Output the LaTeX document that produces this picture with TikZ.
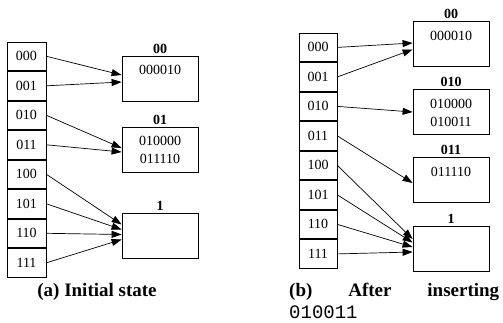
\documentclass[tikz,border=0pt]{standalone}
\usepackage{fontspec}
\setmainfont{Liberation Serif}
\setmonofont{Liberation Mono}
\usetikzlibrary{arrows.meta, positioning}

\begin{document}
\begin{tikzpicture}[
    x=1pt, y=-1pt,
    node distance=0pt,
    cell/.style={rectangle, draw, line width=0.8pt, minimum width=39pt, minimum height=28.7pt, inner sep=0pt, font=\fontsize{14}{16}\selectfont},
    bucket/.style={rectangle, draw, line width=0.8pt, minimum width=76pt, minimum height=45pt, inner sep=0pt},
    bucketlabel/.style={font=\fontsize{14}{16}\selectfont\bfseries, inner sep=2pt},
    entries/.style={anchor=north, align=center, inner sep=0pt, font=\fontsize{14}{18}\selectfont},
    line/.style={draw, line width=0.7pt, -{Triangle[length=10pt,width=7pt]}},
    caption/.style={font=\fontsize{19}{22}\selectfont\bfseries}
]
\useasboundingbox (0,0) rectangle (503,322);

% Directory for the initial state
\node[cell] (a000) at (26.5,56.3) {000};
\node[cell, below=of a000] (a001) {001};
\node[cell, below=of a001] (a010) {010};
\node[cell, below=of a010] (a011) {011};
\node[cell, below=of a011] (a100) {100};
\node[cell, below=of a100] (a101) {101};
\node[cell, below=of a101] (a110) {110};
\node[cell, below=of a110] (a111) {111};

% Buckets for the initial state
\node[bucket, label={[bucketlabel]above:00}] (a00) at (160,78.5) {};
\node[entries] (a00_keys) at ([yshift=-9.5pt]a00.north) {000010};
\node[bucket, label={[bucketlabel]above:01}] (a01) at (160,149.5) {};
\node[entries] (a01_keys) at ([yshift=-9.5pt]a01.north) {010000\\011110};
\node[bucket, label={[bucketlabel]above:1}] (a1) at (160,235.5) {};

% Pointers for the initial state
\path [line] (a000.east) -- ([yshift=3.5pt]a00.west);
\path [line] (a001.east) -- ([yshift=-3.5pt]a00.west);
\path [line] (a010.east) -- ([yshift=1.5pt]a01.west);
\path [line] (a011.east) -- ([yshift=-2.5pt]a01.west);
\path [line] (a100.east) -- ([yshift=11pt]a1.west);
\path [line] (a101.east) -- ([yshift=6pt]a1.west);
\path [line] (a110.east) -- ([yshift=1pt]a1.west);
\path [line] (a111.east) -- ([yshift=-4pt]a1.west);

% Directory after the insertion
\node[cell, minimum width=38pt] (b000) at (318,47.4) {000};
\node[cell, minimum width=38pt, below=of b000] (b001) {001};
\node[cell, minimum width=38pt, below=of b001] (b010) {010};
\node[cell, minimum width=38pt, below=of b010] (b011) {011};
\node[cell, minimum width=38pt, below=of b011] (b100) {100};
\node[cell, minimum width=38pt, below=of b100] (b101) {101};
\node[cell, minimum width=38pt, below=of b101] (b110) {110};
\node[cell, minimum width=38pt, below=of b110] (b111) {111};

% Buckets after the insertion
\node[bucket, label={[bucketlabel]above:00}] (b00) at (451,44) {};
\node[entries] (b00_keys) at ([yshift=-9.5pt]b00.north) {000010};
\node[bucket, label={[bucketlabel]above:010}] (b010b) at (451,112) {};
\node[entries] (b010_keys) at ([yshift=-9.5pt]b010b.north) {010000\\010011};
\node[bucket, label={[bucketlabel]above:011}] (b011b) at (451,180) {};
\node[entries] (b011_keys) at ([yshift=-9.5pt]b011b.north) {011110};
\node[bucket, label={[bucketlabel]above:1}] (b1) at (451,248.5) {};

% Pointers after the insertion
\path [line] (b000.east) -- ([yshift=1pt]b00.west);
\path [line] (b001.east) -- ([yshift=-5.5pt]b00.west);
\path [line] (b010.east) -- (b010b.west);
\path [line] (b011.east) -- ([yshift=-3pt]b011b.west);
\path [line] (b100.east) -- ([yshift=9.5pt]b1.west);
\path [line] (b101.east) -- ([yshift=6pt]b1.west);
\path [line] (b110.east) -- ([yshift=1.5pt]b1.west);
\path [line] (b111.east) -- ([yshift=-3.5pt]b1.west);

% Captions
\node[caption] (cap_a) at (97,292) {(a) Initial state};
\node[caption, text width=210pt, align=justify, anchor=north west, inner sep=0pt] (cap_b) at (289,283) {(b) After inserting\linebreak \texttt{\mdseries\fontsize{19}{19}\selectfont 010011}};

\end{tikzpicture}
\end{document}
